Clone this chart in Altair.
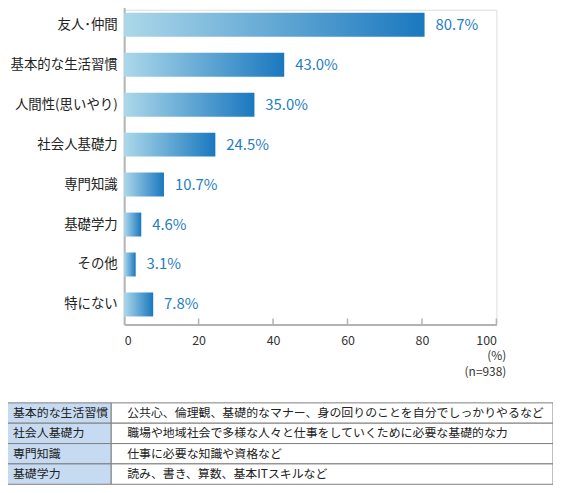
import altair as alt
import pandas as pd

categories = ["友人･仲間", "基本的な生活習慣", "人間性(思いやり)", "社会人基礎力",
              "専門知識", "基礎学力", "その他", "特にない"]
values = [80.7, 43.0, 35.0, 24.5, 10.7, 4.6, 3.1, 7.8]
x_ticks = [0, 20, 40, 60, 80, 100]
notes = ["(%)", "(n=938)"]
table_terms = ["基本的な生活習慣", "社会人基礎力", "専門知識", "基礎学力"]
table_desc = [
    "公共心、倫理観、基礎的なマナー、身の回りのことを自分でしっかりやるなど",
    "職場や地域社会で多様な人々と仕事をしていくために必要な基礎的な力",
    "仕事に必要な知識や資格など",
    "読み、書き、算数、基本ITスキルなど",
]

FONT = "Noto Sans CJK JP"
AXIS_GRAY = "#b3b3b3"

df = pd.DataFrame({"cat": categories, "val": values})
df["label"] = [f"{v:.1f}%" for v in values]
tdf = pd.DataFrame({"term": table_terms, "desc": table_desc})

W, H = 375, 317

xscale = alt.Scale(domain=[0, 100], range=[0, W], nice=False, zero=True)
yscale = alt.Scale(domain=categories, range=[-5, H], paddingInner=0.4, paddingOuter=0.2)

grad = alt.Gradient(
    gradient="linear",
    stops=[alt.GradientStop(color="#acd8ea", offset=0),
           alt.GradientStop(color="#1a78bf", offset=1)],
    x1=0, x2=1, y1=0, y2=0,
)

base = alt.Chart(df)

bars = base.mark_bar(color=grad).encode(
    x=alt.X("val:Q", scale=xscale,
            axis=alt.Axis(values=x_ticks, title=None, grid=False, tickSize=0,
                          labelPadding=10, labelFontSize=12.5, labelColor="#333",
                          labelFont=FONT, domainColor=AXIS_GRAY, domainWidth=2)),
    y=alt.Y("cat:N", scale=yscale, sort=categories,
            axis=alt.Axis(title=None, tickSize=0, labelPadding=7, labelFontSize=13.5,
                          labelColor="#222", labelFont=FONT, domainColor=AXIS_GRAY,
                          domainWidth=2, labelLimit=200)),
)

labels = base.mark_text(align="left", baseline="middle", dx=11, fontSize=15,
                        color="#1f7dc3", font=FONT).encode(
    x=alt.X("val:Q", scale=xscale),
    y=alt.Y("cat:N", scale=yscale, sort=categories),
    text="label:N",
)

chart_main = alt.layer(bars, labels).resolve_scale(y="shared", x="shared").resolve_axis(
    y="shared", x="shared")

ticks = alt.Chart(pd.DataFrame({"t": x_ticks[1:]})).mark_rule(
    color=AXIS_GRAY, strokeWidth=1.5).encode(
    x=alt.X("t:Q", scale=xscale),
    y=alt.value(H - 6),
    y2=alt.value(H),
)

note1 = alt.Chart(pd.DataFrame({"n": [notes[0]]})).mark_text(
    align="right", baseline="middle", fontSize=12, color="#333", font=FONT).encode(
    x=alt.value(W + 10), y=alt.value(349), text="n:N")
note2 = alt.Chart(pd.DataFrame({"n": [notes[1]]})).mark_text(
    align="right", baseline="middle", fontSize=12, color="#333", font=FONT).encode(
    x=alt.value(W + 10), y=alt.value(365), text="n:N")

tscale = alt.Scale(domain=table_terms, range=[396, 478], paddingInner=0, paddingOuter=0)
tbase = alt.Chart(tdf)
ty = alt.Y("term:N", scale=tscale, sort=table_terms, axis=None)

cell1 = tbase.mark_rect(fill="#c6daf1", stroke="#7f7f7f", strokeWidth=1).encode(
    x=alt.value(-122), x2=alt.value(-13), y=ty)
cell2 = tbase.mark_rect(fill="#ffffff", stroke="#7f7f7f", strokeWidth=1).encode(
    x=alt.value(-13), x2=alt.value(432), y=ty)
text1 = tbase.mark_text(align="left", baseline="middle", fontSize=12, color="#222",
                        font=FONT).encode(
    x=alt.value(-112), y=alt.Y("term:N", scale=tscale, sort=table_terms, axis=None,
                                bandPosition=0.5), text="term:N")
text2 = tbase.mark_text(align="left", baseline="middle", fontSize=12, color="#222",
                        font=FONT).encode(
    x=alt.value(3), y=alt.Y("term:N", scale=tscale, sort=table_terms, axis=None,
                             bandPosition=0.5), text="desc:N")

table = alt.layer(cell1, cell2, text1, text2)

chart = alt.layer(chart_main, ticks, note1, note2, table).resolve_scale(
    y="independent"
).properties(
    width=W, height=H,
    autosize=alt.AutoSizeParams(type="none"),
    padding={"left": 117, "top": 0, "right": 57, "bottom": 163},
).configure_view(stroke=None).configure(background="white")

chart.save("out.html", embed_options={"renderer": "svg", "actions": False})
